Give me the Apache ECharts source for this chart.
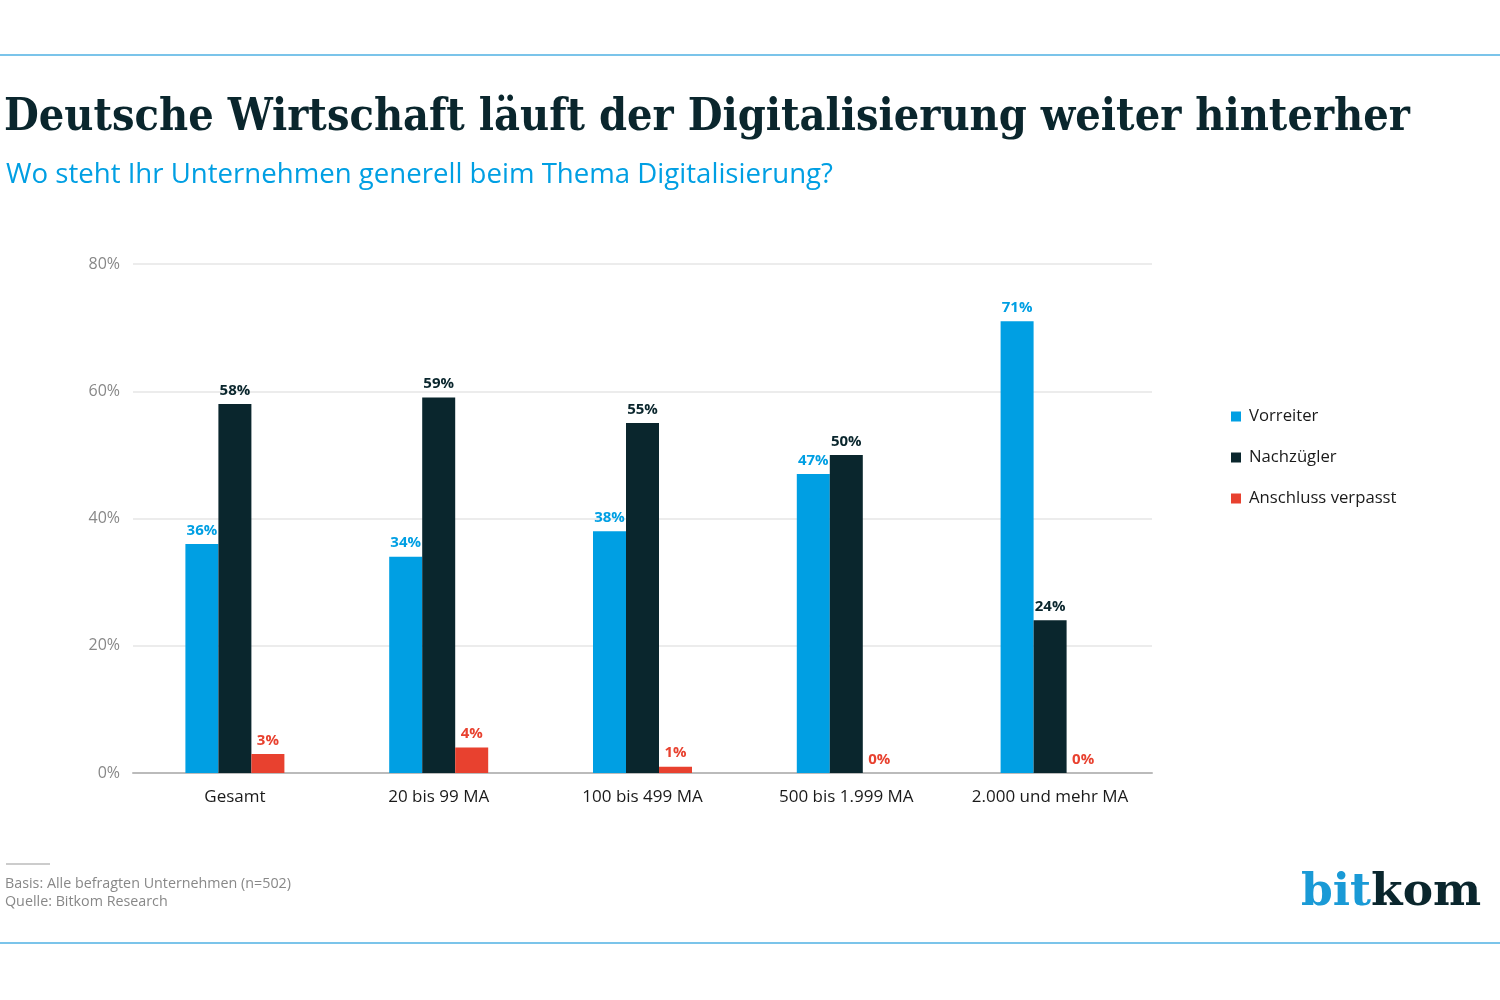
<!DOCTYPE html>
<html><head><meta charset="utf-8">
<script src="https://cdn.jsdelivr.net/npm/echarts@6/dist/echarts.min.js"></script>
<style>html,body{margin:0;padding:0;background:#fff}#c{width:1500px;height:1000px}</style>
</head><body><div id="c"></div>
<script>
const categories = ['Gesamt', '20 bis 99 MA', '100 bis 499 MA', '500 bis 1.999 MA', '2.000 und mehr MA'];
const vorreiter = [36, 34, 38, 47, 71];
const nachzuegler = [58, 59, 55, 50, 24];
const anschluss = [3, 4, 1, 0, 0];
const seriesNames = ['Vorreiter', 'Nachzügler', 'Anschluss verpasst'];
const colors = ['#009FE3', '#0A262D', '#E8412F'];

const chart = echarts.init(document.getElementById('c'));
const sans = '"Open Sans", "Noto Sans", sans-serif';
function mk(name, data, color) {
  return {
    name, type: 'bar', data, barWidth: 33, barGap: '0%',
    itemStyle: { color },
    label: { show: true, position: 'top', formatter: '{c}%', color, fontWeight: 'bold', fontSize: 15, fontFamily: sans, distance: 6 }
  };
}
chart.setOption({
  animation: false,
  grid: { left: 133, right: 348, top: 264, bottom: 227, containLabel: false },
  title: [
    { text: 'Deutsche Wirtschaft läuft der Digitalisierung weiter hinterher', left: -1, top: 91,
      textStyle: { fontFamily: '"DejaVu Serif Condensed", "DejaVu Serif", serif', fontWeight: 'bold', fontSize: 44.6, color: '#0A262D' } },
    { text: 'Wo steht Ihr Unternehmen generell beim Thema Digitalisierung?', left: 1, top: 156,
      textStyle: { fontFamily: sans, fontWeight: 'normal', fontSize: 27.6, color: '#009FE3' } }
  ],
  legend: {
    orient: 'vertical', left: 1226, top: 403, itemWidth: 10, itemHeight: 10, itemGap: 24,
    icon: 'rect', data: seriesNames,
    textStyle: { fontFamily: sans, fontSize: 16.7, color: '#1a1a1a', padding: [0, 0, 0, 3] }
  },
  xAxis: {
    type: 'category', data: categories,
    axisLine: { lineStyle: { color: '#bbbbbb', width: 2 } },
    axisTick: { show: false },
    axisLabel: { fontFamily: sans, fontSize: 17, color: '#1a1a1a', margin: 16 }
  },
  yAxis: {
    type: 'value', min: 0, max: 80, interval: 20,
    axisLabel: { formatter: '{value}%', fontFamily: sans, fontSize: 16, color: '#888888', margin: 13 },
    splitLine: { lineStyle: { color: '#e6e6e6', width: 1.5 } },
    axisLine: { show: false }, axisTick: { show: false }
  },
  series: [mk(seriesNames[0], vorreiter, colors[0]), mk(seriesNames[1], nachzuegler, colors[1]), mk(seriesNames[2], anschluss, colors[2])],
  graphic: [
    { type: 'line', shape: { x1: 0, y1: 55, x2: 1500, y2: 55 }, style: { stroke: '#4FB0E3', lineWidth: 1.5 } },
    { type: 'line', shape: { x1: 0, y1: 943, x2: 1500, y2: 943 }, style: { stroke: '#4FB0E3', lineWidth: 1.5 } },
    { type: 'line', shape: { x1: 6, y1: 864, x2: 50, y2: 864 }, style: { stroke: '#999', lineWidth: 1 } },
    { type: 'text', left: 5, top: 875, style: { text: 'Basis: Alle befragten Unternehmen (n=502)\nQuelle: Bitkom Research', font: '14.3px ' + sans, fill: '#888', lineHeight: 18 } },
    { type: 'text', left: 1301, top: 870, style: {
        text: '{a|bit}{b|kom}',
        rich: {
          a: { fontFamily: '"DejaVu Serif", serif', fontWeight: 'bold', fontSize: 45.5, fill: '#1A9AD6', color: '#1A9AD6' },
          b: { fontFamily: '"DejaVu Serif", serif', fontWeight: 'bold', fontSize: 45.5, fill: '#0A262D', color: '#0A262D' }
        } } }
  ]
});
</script></body></html>
